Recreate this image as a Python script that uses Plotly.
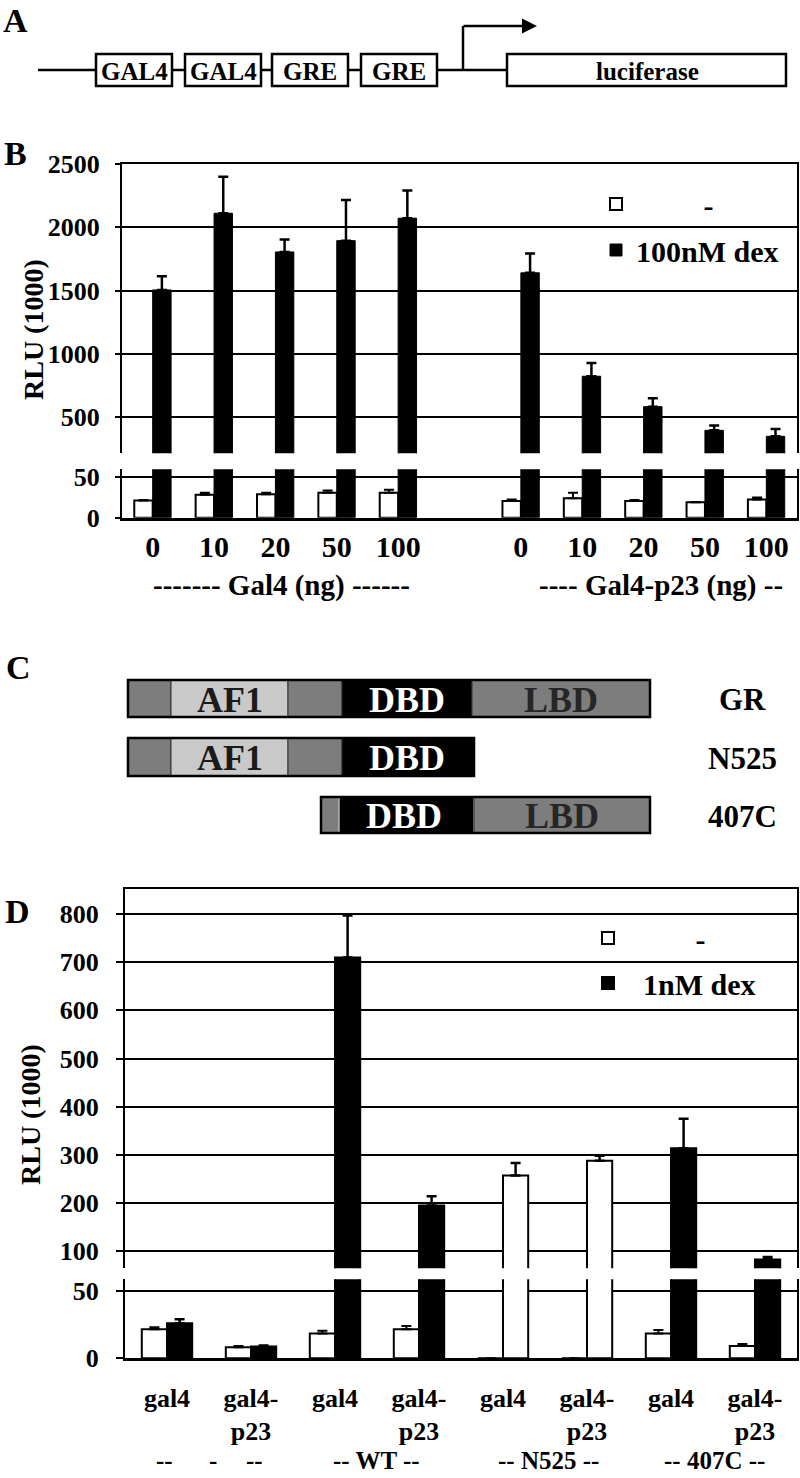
import plotly.graph_objects as go

W, H = 800, 1478


def px(x):
    return x / W


def py(y):
    return 1 - y / H


FONT = "Liberation Serif"
NB = "\u00a0"

# ---------------- Panel A : reporter construct ----------------
a_elements = ["GAL4", "GAL4", "GRE", "GRE"]
a_reporter = "luciferase"

# ---------------- Panel B data ----------------
b_doses = ["0", "10", "20", "50", "100"]
b_group_labels = ["------- Gal4 (ng) ------", "---- Gal4-p23 (ng) --"]
b_gal4_minus = [21.3, 28.4, 29.2, 31, 31]
b_gal4_minus_err = [0.5, 2.6, 1.8, 2.8, 3.6]
b_gal4_dex = [1505, 2110, 1805, 1894, 2071]
b_gal4_dex_err = [108, 289, 97, 321, 218]
b_p23_minus = [20.7, 24, 20.7, 19, 22.5]
b_p23_minus_err = [2, 7, 1.3, 0.5, 2.5]
b_p23_dex = [1640, 824, 584, 397, 350]
b_p23_dex_err = [152, 105, 66, 38, 58]
b_series = ["-", "100nM dex"]

# ---------------- Panel C : constructs ----------------
c_constructs = ["GR", "N525", "407C"]
c_domains = ["AF1", "DBD", "LBD"]

# ---------------- Panel D data ----------------
d_labels = ["gal4", "gal4-<br>p23", "gal4", "gal4-<br>p23",
            "gal4", "gal4-<br>p23", "gal4", "gal4-<br>p23"]
d_receptor_labels = ["-- WT --", "-- N525 --", "-- 407C --"]
d_minus = [21.5, 8.2, 18.5, 21.5, 0, 0, 18.5, 9.1]
d_minus_err = [1.5, 0.9, 2.0, 2.5, 0, 0, 2.5, 1.5]
d_dex = [26, 8.7, 710, 195, 257, 288, 314, 83]
d_dex_err = [3, 0.9, 87, 19, 26, 10, 61, 5]
d_series = ["-", "1nM dex"]

fig = go.Figure()

# ---------------- Panel B bars ----------------
b_x = list(range(0, 5)) + list(range(6, 11))
b_ticktext = b_doses + b_doses
b_minus = b_gal4_minus + b_p23_minus
b_minus_err = b_gal4_minus_err + b_p23_minus_err
b_dex = b_gal4_dex + b_p23_dex
b_dex_err = b_gal4_dex_err + b_p23_dex_err

for xa, ya, show in [("x", "y", True), ("x2", "y2", False)]:
    fig.add_trace(go.Bar(
        x=b_x, y=b_minus, name=NB * 9 + b_series[0], legendgroup="bm", showlegend=show,
        marker=dict(color="white", line=dict(color="black", width=2)),
        error_y=dict(type="data", array=b_minus_err, symmetric=False,
                     arrayminus=[0] * len(b_minus), color="black", thickness=2, width=5),
        xaxis=xa, yaxis=ya, legend="legend"))
    fig.add_trace(go.Bar(
        x=b_x, y=b_dex, name=b_series[1], legendgroup="bd", showlegend=show,
        marker=dict(color="black", line=dict(color="black", width=1)),
        error_y=dict(type="data", array=b_dex_err, symmetric=False,
                     arrayminus=[0] * len(b_dex), color="black", thickness=2.5, width=5),
        xaxis=xa, yaxis=ya, legend="legend"))

# ---------------- Panel D bars ----------------
d_x = list(range(len(d_labels)))
d_dex_colors = ["black", "black", "black", "black", "white", "white", "black", "black"]
for xa, ya, show in [("x3", "y3", True), ("x4", "y4", False)]:
    fig.add_trace(go.Bar(
        x=d_x, y=d_minus, name=NB * 9 + d_series[0], legendgroup="dm", showlegend=show,
        marker=dict(color="white", line=dict(color="black", width=2)),
        error_y=dict(type="data", array=d_minus_err, symmetric=False,
                     arrayminus=[0] * len(d_minus), color="black", thickness=2, width=5),
        xaxis=xa, yaxis=ya, legend="legend2"))
    fig.add_trace(go.Bar(
        x=d_x, y=d_dex, name=NB * 2 + d_series[1], legendgroup="dd", showlegend=show,
        marker=dict(color=d_dex_colors, line=dict(color="black", width=2)),
        error_y=dict(type="data", array=d_dex_err, symmetric=False,
                     arrayminus=[0] * len(d_dex), color="black", thickness=2.5, width=5),
        xaxis=xa, yaxis=ya, legend="legend2"))

tickfont = dict(family=FONT, size=26, color="black", weight="bold")

common_y = dict(showline=True, linecolor="black", linewidth=2, mirror=True,
                showgrid=True, gridcolor="black", gridwidth=2, zeroline=False,
                ticks="outside", ticklen=5, tickwidth=2, tickcolor="black",
                tickfont=tickfont, fixedrange=True, automargin=False)

layout_axes = dict(
    # Panel B upper
    xaxis=dict(domain=[px(122), px(797)], range=[-0.5, 10.5], anchor="y", side="top",
               showline=True, linecolor="black", linewidth=2, showticklabels=False,
               ticks="", showgrid=False, zeroline=False, automargin=False),
    yaxis=dict(domain=[py(453.3), py(163.7)], range=[216, 2501], anchor="x",
               tickvals=[500, 1000, 1500, 2000, 2500], ticklabelstandoff=10, **common_y),
    # Panel B lower
    xaxis2=dict(domain=[px(122), px(797)], range=[-0.5, 10.5], anchor="y2",
                showline=True, linecolor="black", linewidth=3, ticks="",
                tickvals=b_x, ticktext=b_ticktext, showgrid=False, zeroline=False,
                tickfont=dict(family=FONT, size=30, color="black", weight="bold"),
                ticklabelstandoff=0, automargin=False),
    yaxis2=dict(domain=[py(517.7), py(469.3)], range=[0, 60], anchor="x2",
                tickvals=[0, 50], ticklabelstandoff=10, **common_y),
    # Panel D upper
    xaxis3=dict(domain=[px(125), px(797)], range=[-0.5, 7.5], anchor="y3", side="top",
                showline=True, linecolor="black", linewidth=2, showticklabels=False,
                ticks="", showgrid=False, zeroline=False, automargin=False),
    yaxis3=dict(domain=[py(1268.3), py(889)], range=[64.6, 852], anchor="x3",
                tickvals=[100, 200, 300, 400, 500, 600, 700, 800], ticklabelstandoff=12,
                **{**common_y, "ticklen": 7}),
    # Panel D lower
    xaxis4=dict(domain=[px(125), px(797)], range=[-0.5, 7.5], anchor="y4",
                showline=True, linecolor="black", linewidth=3, ticks="",
                tickvals=d_x, ticktext=d_labels, showgrid=False, zeroline=False,
                tickfont=dict(family=FONT, size=26, color="black", weight="bold"),
                ticklabelstandoff=14, automargin=False),
    yaxis4=dict(domain=[py(1358.3), py(1279.3)], range=[0, 58.7], anchor="x4",
                tickvals=[0, 50], ticklabelstandoff=12, **{**common_y, "ticklen": 7}),
)

shapes = []
annotations = []


def text(x, y, s, size=26, color="black", angle=0, xanchor="center"):
    annotations.append(dict(x=px(x), y=py(y), xref="paper", yref="paper", text=s,
                            showarrow=False, textangle=angle, xanchor=xanchor,
                            yanchor="middle",
                            font=dict(family=FONT, size=size, color=color, weight="bold")))


def rect(x0, y0, x1, y1, fill, lc="black", lw=2):
    shapes.append(dict(type="rect", xref="paper", yref="paper", x0=px(x0), x1=px(x1),
                       y0=py(y1), y1=py(y0), fillcolor=fill,
                       line=dict(color=lc, width=lw), layer="above"))


def line(x0, y0, x1, y1, lw=2.5):
    shapes.append(dict(type="line", xref="paper", yref="paper", x0=px(x0), x1=px(x1),
                       y0=py(y0), y1=py(y1), line=dict(color="black", width=lw),
                       layer="above"))


# ---------------- Panel A drawing ----------------
text(15, 20, "A", size=34)
line(38, 70, 507, 70)
a_boxes = [(96, 172), (185, 261), (272, 348), (361, 437)]
for (x0, x1), lab in zip(a_boxes, a_elements):
    rect(x0, 54, x1, 86, "white", lw=2.5)
    text((x0 + x1) / 2, 71, lab, size=25)
rect(507, 54, 786, 86, "white", lw=2.5)
text(647, 71, a_reporter, size=25)
line(463, 70, 463, 26)
annotations.append(dict(x=px(537), y=py(26), xref="paper", yref="paper", text="",
                        showarrow=True, ax=-75, ay=0, axref="pixel", ayref="pixel",
                        arrowhead=2, arrowsize=1.2, arrowwidth=2.5, arrowcolor="black"))

# ---------------- Panel B labels ----------------
text(15, 153, "B", size=34)
text(33, 330, "RLU (1000)", size=28, angle=-90)
text(281, 586, b_group_labels[0], size=29)
text(661, 586, b_group_labels[1], size=29)

# ---------------- Panel C drawing ----------------
GREY, LIGHT, BLACK = "#7d7d7d", "#c9c9c9", "#000000"
text(18, 667, "C", size=34)
c_rows = [(680, 717), (738, 776), (797, 833)]
c_segments = [
    [(128, 171, GREY), (171, 288, LIGHT), (288, 342, GREY), (342, 472, BLACK), (472, 650, GREY)],
    [(128, 171, GREY), (171, 288, LIGHT), (288, 342, GREY), (342, 474, BLACK)],
    [(321, 339, GREY), (339, 474, BLACK), (474, 650, GREY)],
]
c_texts = [
    [(230, "AF1", "#1a1a1a"), (407, "DBD", "white"), (561, "LBD", "#262626")],
    [(230, "AF1", "#1a1a1a"), (407, "DBD", "white")],
    [(404, "DBD", "white"), (562, "LBD", "#262626")],
]
for (y0, y1), segs, txts, name in zip(c_rows, c_segments, c_texts, c_constructs):
    for i, (x0, x1, col) in enumerate(segs):
        inner = "white" if (name == "407C" and col == BLACK) else "#333333"
        rect(x0, y0, x1, y1, col, lc=inner, lw=1)
    rect(segs[0][0], y0, segs[-1][1], y1, "rgba(0,0,0,0)", lw=2.5)
    cy = (y0 + y1) / 2 + 1
    for x, s, col in txts:
        text(x, cy, s, size=36, color=col)
    text(742, cy, name, size=31)

# ---------------- Panel D labels ----------------
text(17, 911, "D", size=34)
text(30, 1115, "RLU (1000)", size=28, angle=-90)
d_bottom_y = 1460
text(164, d_bottom_y, "--", size=25)
text(213, d_bottom_y, "-", size=25)
text(255, d_bottom_y, "--", size=25)
text(376, d_bottom_y, d_receptor_labels[0], size=25)
text(548, d_bottom_y, d_receptor_labels[1], size=25)
text(714, d_bottom_y, d_receptor_labels[2], size=25)

legend_font = dict(family=FONT, size=30, color="black", weight="bold")

fig.update_layout(
    width=W, height=H, autosize=False,
    margin=dict(l=0, r=0, t=0, b=0, pad=0, autoexpand=False),
    paper_bgcolor="white", plot_bgcolor="white",
    font=dict(family=FONT, size=26, color="black", weight="bold"),
    barmode="group", bargap=0.4, bargroupgap=0,
    shapes=shapes, annotations=annotations,
    legend=dict(x=px(596), y=py(178), xanchor="left", yanchor="top",
                bgcolor="rgba(0,0,0,0)", font=legend_font, traceorder="grouped",
                tracegroupgap=4, itemclick=False, itemdoubleclick=False),
    legend2=dict(x=px(588), y=py(912), xanchor="left", yanchor="top",
                 bgcolor="rgba(0,0,0,0)", font=legend_font, traceorder="grouped",
                 tracegroupgap=3, itemclick=False, itemdoubleclick=False),
    **layout_axes,
)

fig.write_html(
    "out.html",
    config={"displayModeBar": False},
    post_script="document.body.style.margin='0';document.body.style.padding='0';"
                "document.body.style.overflow='hidden';",
)
